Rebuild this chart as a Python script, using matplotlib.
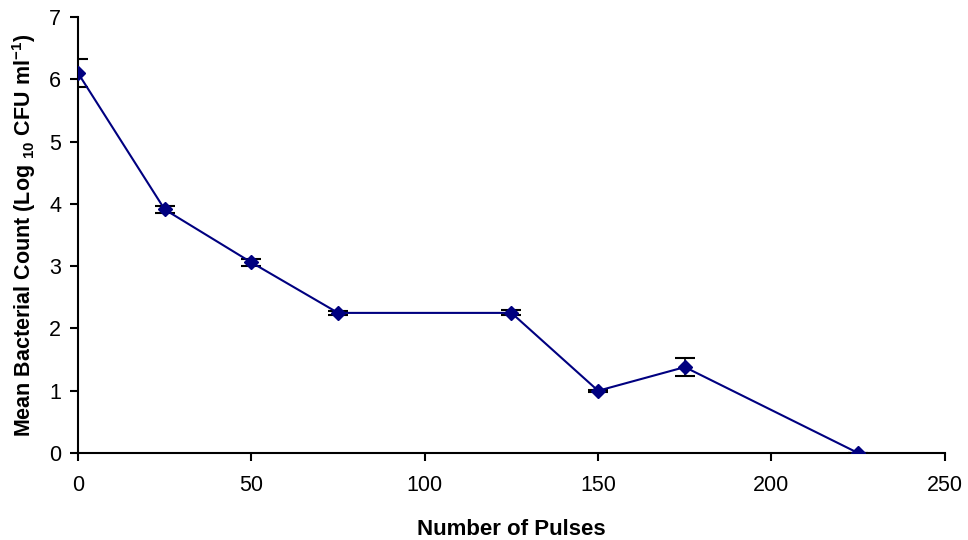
import matplotlib
matplotlib.use("Agg")
import matplotlib.pyplot as plt

pulses = [0, 25, 50, 75, 125, 150, 175, 225]
mean_count = [6.1, 3.91, 3.06, 2.25, 2.25, 1.0, 1.38, 0.0]
err = [0.22, 0.06, 0.05, 0.03, 0.04, 0.02, 0.14, 0.0]
xticks = [0, 50, 100, 150, 200, 250]
yticks = [0, 1, 2, 3, 4, 5, 6, 7]

plt.rcParams['font.family'] = ['Liberation Sans', 'DejaVu Sans']
plt.rcParams['mathtext.fontset'] = 'custom'
plt.rcParams['mathtext.rm'] = 'Liberation Sans:bold'
plt.rcParams['mathtext.bf'] = 'Liberation Sans:bold'

fig = plt.figure(figsize=(9.68, 5.4), dpi=100)
ax = fig.add_axes([0.0806, 0.161, 0.8955, 0.8075])

ax.errorbar(pulses, mean_count, yerr=err, color='#000080', marker='D', markersize=7.5,
            linewidth=1.5, ecolor='black', elinewidth=1.2, capsize=7, capthick=1.5, zorder=3)

ax.set_xlim(0, 250)
ax.set_ylim(0, 7)
ax.set_xticks(xticks)
ax.set_yticks(yticks)
ax.spines['top'].set_visible(False)
ax.spines['right'].set_visible(False)
for s in ['left', 'bottom']:
    ax.spines[s].set_linewidth(1.5)
ax.tick_params(axis='both', direction='out', length=6, width=1.5, labelsize=15.5)
ax.tick_params(axis='x', pad=10)
ax.tick_params(axis='y', pad=6)

ax.set_xlabel('Number of Pulses', fontsize=16, fontweight='bold', labelpad=16)
ax.set_ylabel(r'Mean Bacterial Count (Log $_{10}$ CFU ml$^{-1}$)', fontsize=15.5,
              fontweight='bold', labelpad=8)

fig.savefig('out.png', dpi=100)
